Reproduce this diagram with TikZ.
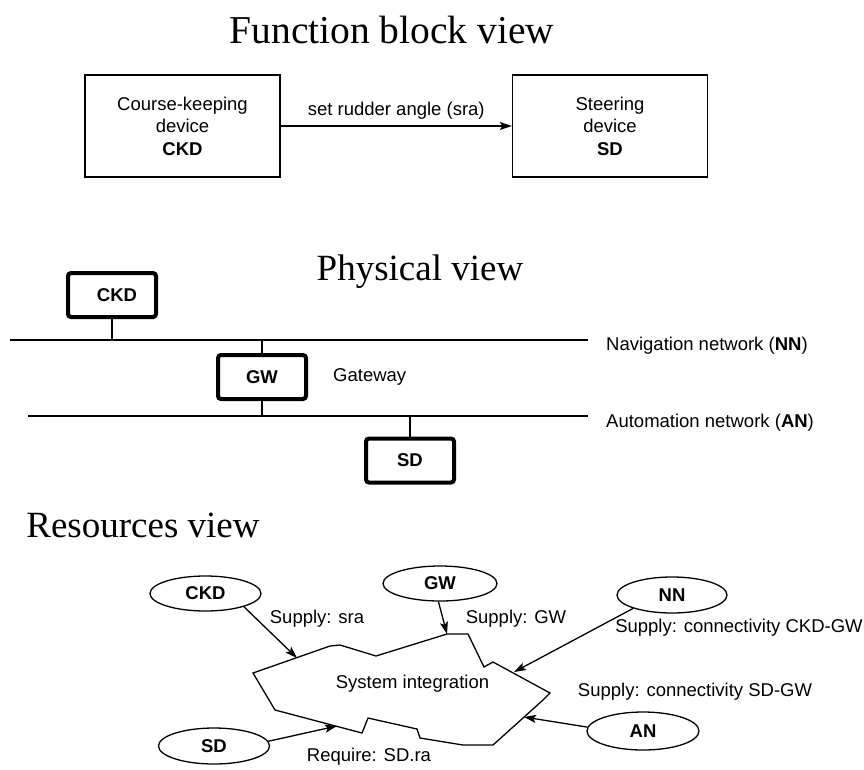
\documentclass[tikz,border=0pt]{standalone}
\usepackage{fontspec}
\setmainfont{Liberation Sans}
\newfontfamily\titlefont{Liberation Serif}
\usetikzlibrary{shapes.geometric,arrows.meta}
\begin{document}
\begin{tikzpicture}[x=1pt,y=-1pt,
  every node/.style={font=\fontsize{18.5}{22.5}\selectfont, inner sep=0pt},
  ttl/.style={font=\titlefont\fontsize{37}{44}\selectfont},
  fbox/.style={draw, line width=1.3pt, minimum width=195pt, minimum height=102pt, align=center},
  pbox/.style={draw, line width=4pt, rounded corners=3pt, minimum width=88pt, minimum height=44pt},
  res/.style={draw, ellipse, line width=1.3pt, minimum width=111pt, minimum height=35pt},
  ln/.style={line width=1.3pt},
  arr/.style={line width=1.3pt, -{Stealth[length=12pt,width=8pt,inset=2.5pt]}},
  lbl/.style={anchor=center}]
\useasboundingbox (0,0) rectangle (864,769);
% ---------- Function block view ----------
\node[ttl, font=\titlefont\fontsize{39.5}{46}\selectfont] (t1) at (392,30) {Function block view};
\node[fbox] (fckd) at (182.5,126) {Course-keeping\\device\\\textbf{CKD}};
\node[fbox] (fsd) at (610,126) {Steering\\device\\\textbf{SD}};
\draw[arr] (fckd.east) -- node[above=6pt] {set rudder angle (sra)} (fsd.west);
% ---------- Physical view ----------
\node[ttl] (t2) at (420,272) {Physical view};
\coordinate (nnl) at (10,340);
\coordinate (nnr) at (588,340);
\coordinate (anl) at (28,416);
\coordinate (anr) at (588,416);
\draw[ln] (nnl) -- (nnr);
\draw[ln] (anl) -- (anr);
\node[pbox] (pckd) at (112,295) {\hspace*{10pt}\raisebox{-10pt}{\textbf{CKD}}};
\node[pbox] (pgw) at (262,377) {\raisebox{-6pt}{\textbf{GW}}};
\node[pbox] (psd) at (410,460.5) {\raisebox{-6pt}{\textbf{SD}}};
\draw[ln] (pckd.south) -- (pckd.south |- nnl);
\draw[ln] (pgw.north) -- (pgw.north |- nnl);
\draw[ln] (pgw.south) -- (pgw.south |- anl);
\draw[ln] (psd.north) -- (psd.north |- anl);
\node[anchor=west] (gwl) at (333,377) {Gateway};
\node[anchor=west] (nnlab) at (606,346) {Navigation network (\textbf{NN})};
\node[anchor=west] (anlab) at (606,423) {Automation network (\textbf{AN})};
% ---------- Resources view ----------
\node[ttl] (t3) at (143,525) {Resources view};
\node[res] (rckd) at (205.5,593.5) {\textbf{CKD}};
\node[res, minimum width=114pt] (rgw) at (440,583.5) {\textbf{GW}};
\node[res, minimum width=110pt, minimum height=36pt] (rnn) at (672,595) {\textbf{NN}};
\node[res, minimum width=112pt, minimum height=38pt] (ran) at (643,731) {\textbf{AN}};
\node[res, minimum height=36pt] (rsd) at (214,746) {\textbf{SD}};
\draw[ln, line join=miter] (253,673) -- (330,646) -- (340,645) -- (376,656) -- (447,634) -- (468,634)
  -- (484,667) -- (493,662) -- (550,693) -- (543,700) -- (493,745) -- (463,745) -- (420,738)
  -- (417,729) -- (368,718) -- (362,733) -- (275,710) -- cycle;
\node (si) at (412.5,684) {System integration};
\coordinate (p1) at (297,658);
\coordinate (p2) at (447,634);
\coordinate (p3) at (514,672);
\coordinate (p4) at (524,717);
\coordinate (p5) at (337,726);
\draw[arr] (rckd.-19) -- (p1);
\draw[arr] (rgw.-95) -- (p2);
\draw[arr] (rnn.199) -- (p3);
\draw[arr] (ran.176) -- (p4);
\draw[arr] (rsd.5) -- (p5);
\node (l1) at (317,619) {Supply: sra};
\node (l2) at (516,619) {Supply: GW};
\node (l3) at (739,628) {Supply: connectivity CKD-GW};
\node (l4) at (695,692) {Supply: connectivity SD-GW};
\node (l5) at (369,757) {Require: SD.ra};
\end{tikzpicture}
\end{document}
